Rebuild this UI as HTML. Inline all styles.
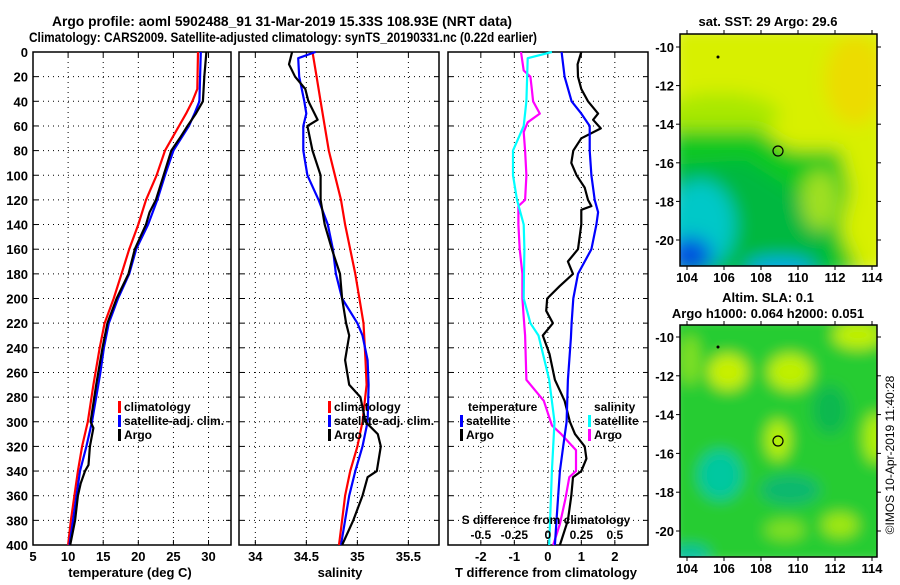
<!DOCTYPE html>
<html><head><meta charset="utf-8"><style>
body{margin:0;background:#fff;}
svg text{font-family:"Liberation Sans",Arial,sans-serif;font-weight:bold;font-size:13px;fill:#000;}
svg text.lg{font-size:12px;}
</style></head><body>
<svg id="fig" width="900" height="580" viewBox="0 0 900 580" xmlns="http://www.w3.org/2000/svg">
<defs>
<filter id="bl1" x="-50%" y="-50%" width="200%" height="200%"><feGaussianBlur stdDeviation="9"/></filter>
<filter id="bl2" x="-50%" y="-50%" width="200%" height="200%"><feGaussianBlur stdDeviation="7"/></filter>
<clipPath id="cm1"><rect x="680" y="34" width="197" height="232"/></clipPath>
<clipPath id="cm2"><rect x="680" y="325" width="197" height="232"/></clipPath>
</defs>
<text x="52" y="26" textLength="460" lengthAdjust="spacingAndGlyphs" style="font-size:14px">Argo profile: aoml 5902488_91 31-Mar-2019 15.33S 108.93E (NRT data)</text>
<text x="29" y="42" textLength="508" lengthAdjust="spacingAndGlyphs" style="font-size:14px">Climatology: CARS2009. Satellite-adjusted climatology: synTS_20190331.nc (0.22d earlier)</text>

<g id="p1"></g>
<g id="p2"></g>
<g id="p3"></g>

<g>
<g clip-path="url(#cm1)" filter="url(#bl1)">
<rect x="670" y="24" width="220" height="250" fill="#d8f000"/>
<ellipse cx="855" cy="80" rx="30" ry="45" fill="#ecdc00"/>
<ellipse cx="720" cy="115" rx="60" ry="22" fill="#a8e800"/>
<path d="M670 130 L760 130 L790 150 L840 150 L850 190 L840 230 L860 275 L670 275Z" fill="#10c820"/>
<path d="M670 165 L745 160 L800 195 L830 210 L830 280 L670 280Z" fill="#00b840"/>
<ellipse cx="820" cy="200" rx="18" ry="30" fill="#a0e020"/>
<ellipse cx="700" cy="225" rx="35" ry="45" fill="#00c8c8"/>
<ellipse cx="690" cy="255" rx="22" ry="18" fill="#0050e0"/>
<ellipse cx="780" cy="268" rx="35" ry="10" fill="#00a8f0"/>
<ellipse cx="870" cy="230" rx="20" ry="40" fill="#d8f000"/>
</g>
<rect x="680" y="34" width="197" height="232" fill="none" stroke="#000" stroke-width="1.5"/>
<circle cx="778" cy="151" r="5" fill="none" stroke="#000" stroke-width="1.2"/>
<circle cx="718" cy="57" r="1.5" fill="#000"/>
<text x="768" y="26" text-anchor="middle">sat. SST: 29 Argo: 29.6</text>
</g>
<g>
<g clip-path="url(#cm2)" filter="url(#bl2)">
<rect x="670" y="315" width="220" height="250" fill="#28cc30"/>
<ellipse cx="728" cy="372" rx="20" ry="18" fill="#c8f000"/>
<ellipse cx="790" cy="372" rx="22" ry="18" fill="#c0f000"/>
<ellipse cx="858" cy="335" rx="25" ry="14" fill="#c0f000"/>
<ellipse cx="778" cy="440" rx="12" ry="20" fill="#b8f000"/>
<ellipse cx="876" cy="438" rx="12" ry="25" fill="#b0f000"/>
<ellipse cx="785" cy="530" rx="20" ry="10" fill="#80e020"/>
<ellipse cx="840" cy="525" rx="18" ry="12" fill="#a0e810"/>
<ellipse cx="720" cy="475" rx="22" ry="25" fill="#00c8a0"/>
<ellipse cx="790" cy="490" rx="30" ry="15" fill="#10b870"/>
<ellipse cx="830" cy="410" rx="18" ry="25" fill="#10b850"/>
<ellipse cx="690" cy="555" rx="20" ry="10" fill="#00c0a0"/>
<ellipse cx="690" cy="360" rx="10" ry="25" fill="#80e020"/>
</g>
<rect x="680" y="325" width="197" height="232" fill="none" stroke="#000" stroke-width="1.5"/>
<circle cx="778" cy="441" r="5" fill="none" stroke="#000" stroke-width="1.2"/>
<circle cx="718" cy="347" r="1.5" fill="#000"/>
<text x="768" y="302" text-anchor="middle">Altim. SLA: 0.1</text>
<text x="768" y="318" text-anchor="middle">Argo h1000: 0.064 h2000: 0.051</text>
</g>
<g id="mapaxes"></g>
<text transform="translate(894,455) rotate(-90)" text-anchor="middle" style="font-weight:normal;font-size:12px">©IMOS 10-Apr-2019 11:40:28</text>
</svg>
<script>
// ---- data ----
const tDepthClim = [0,30,40,50,60,80,100,120,140,160,180,200,220,240,260,270,300,320,340,360,380,400];
const tClim = [28.5,28.4,27.7,26.8,25.8,23.8,22.6,21.1,20,18.7,17.6,16.5,15.2,14.5,13.9,13.6,12.8,12.0,11.4,10.9,10.4,10.0];
const tDepthSat = [0,40,50,60,80,100,120,140,160,180,200,220,240,260,270,300,320,340,360,380,400];
const tSat = [28.9,28.7,28.0,27.2,25.0,23.8,22.7,21.4,19.7,18.7,17.1,15.8,15.1,14.6,14.3,13.4,12.6,11.7,11.2,10.7,10.2];
const tDepthArgo = [0,20,30,40,50,60,70,80,100,120,130,140,160,180,200,220,240,260,270,300,305,320,335,340,350,360,380,400];
const tArgo = [29.7,29.4,29.3,29.2,28.2,27.0,25.9,24.7,23.6,22.5,21.6,21.1,19.5,18.6,16.9,15.6,14.9,14.3,14.0,13.2,13.6,13.1,12.9,12.4,11.8,11.4,11.0,10.3];

const sDepthClim = [0,20,40,60,80,100,120,140,160,180,200,220,250,270,300,320,340,360,380,400];
const sClim = [34.56,34.60,34.64,34.68,34.72,34.78,34.84,34.88,34.93,34.98,35.02,35.06,35.08,35.09,35.05,35.0,34.93,34.88,34.85,34.82];
const sDepthSat = [0,5,20,40,50,60,80,100,120,140,160,180,200,220,230,250,270,300,320,340,360,380,400];
const sSat = [34.59,34.42,34.43,34.48,34.50,34.47,34.47,34.51,34.62,34.71,34.76,34.79,34.85,35.0,35.05,35.1,35.11,35.10,35.05,34.98,34.92,34.88,34.84];
const sDepthArgo = [0,10,20,30,40,55,60,80,100,120,140,160,180,200,220,230,250,270,280,300,310,320,340,345,360,380,400];
const sArgo = [34.36,34.33,34.39,34.49,34.52,34.61,34.51,34.56,34.64,34.64,34.68,34.75,34.83,34.85,34.89,34.92,34.88,34.92,35.03,35.08,35.2,35.23,35.19,35.1,35.05,34.96,34.85];

const dDepthTSat = [0,20,40,50,60,80,100,120,130,140,160,180,200,220,232,266,300,320,340,360,380,400];
const dTSat = [0.41,0.5,0.71,1.0,1.25,1.25,1.3,1.4,1.5,1.45,1.3,0.9,0.76,0.71,0.69,0.6,0.56,0.46,0.36,0.31,0.26,0.21];
const dDepthTArgo = [0,10,20,30,40,50,55,62,70,80,90,100,110,120,125,128,140,160,170,180,190,200,210,220,230,245,266,283,300,310,320,330,340,345,360,380,400];
const dTArgo = [1.0,0.89,0.9,1.0,1.2,1.5,1.35,1.58,1.0,0.76,0.7,0.86,1.1,1.2,1.3,1.0,1.0,0.9,0.6,0.75,0.35,-0.02,-0.05,0.15,-0.15,0.05,0.21,0.5,0.66,0.81,1.1,1.15,1.0,0.75,0.7,0.6,0.36];
const dDepthSSat = [0,5,40,60,80,100,120,140,160,180,200,220,230,266,300,340,400];
const dSSat = [0.03,-0.15,-0.16,-0.18,-0.26,-0.26,-0.23,-0.18,-0.175,-0.178,-0.18,-0.13,-0.07,0.01,0.05,0.03,0.01];
const dDepthSArgo = [0,15,20,30,40,50,57,65,80,100,120,125,140,160,180,200,215,230,266,283,303,310,323,340,345,363,383,403];
const dSArgo = [-0.2,-0.18,-0.13,-0.12,-0.11,-0.06,-0.15,-0.18,-0.17,-0.16,-0.17,-0.22,-0.22,-0.21,-0.19,-0.19,-0.18,-0.17,-0.16,-0.03,0.03,0.1,0.21,0.21,0.16,0.13,0.09,0.04];

const depthTicks = [0,20,40,60,80,100,120,140,160,180,200,220,240,260,280,300,320,340,360,380,400];
const tTicks = [5,10,15,20,25,30];
const sTicks = [34,34.5,35,35.5];
const dTTicks = [-2,-1,0,1,2];
const dSTicks = [-0.5,-0.25,0,0.25,0.5];
const lonTicks = [104,106,108,110,112,114];
const latTicks = [-10,-12,-14,-16,-18,-20];

// ---- helpers ----
const NS='http://www.w3.org/2000/svg';
const TOP=52, BOT=545;
const yD = d => TOP + (Math.min(d,400)/400)*(BOT-TOP);
function mk(parent,tag,attrs){const e=document.createElementNS(NS,tag);for(const k in attrs)e.setAttribute(k,attrs[k]);parent.appendChild(e);return e;}
function txt(parent,x,y,s,anchor){const t=mk(parent,'text',{x:x,y:y,'text-anchor':anchor||'middle'});t.textContent=s;return t;}

function panel(g,x0,x1,xmin,xmax,xticks,showY){
  const xs=v=>x0+(v-xmin)/(xmax-xmin)*(x1-x0);
  depthTicks.forEach((d,i)=>{
    if(i>0 && i<depthTicks.length-1){
      const gl=mk(g,'line',{x1:x0,x2:x1,y1:yD(d),y2:yD(d),stroke:'#000','stroke-width':1,'stroke-dasharray':'1,4'});
      
      
    }
    mk(g,'line',{x1:x0,x2:x0+5,y1:yD(d),y2:yD(d),stroke:'#000'});
    mk(g,'line',{x1:x1-5,x2:x1,y1:yD(d),y2:yD(d),stroke:'#000'});
    if(showY){const t=txt(g,28,yD(d)+5,String(d),'end');
      
      }
  });
  xticks.forEach(v=>{
    const x=xs(v);
    mk(g,'line',{x1:x,x2:x,y1:TOP,y2:BOT,stroke:'#000','stroke-width':1,'stroke-dasharray':'1,4'});
    mk(g,'line',{x1:x,x2:x,y1:BOT-5,y2:BOT,stroke:'#000'});
    mk(g,'line',{x1:x,x2:x,y1:TOP,y2:TOP+5,stroke:'#000'});
  });
  const r=mk(g,'rect',{x:x0,y:TOP,width:x1-x0,height:BOT-TOP,fill:'none',stroke:'#000','stroke-width':1.5});
  
  
  return xs;
}
function series(g,xs,depths,vals,color,w,name){
  const pts=vals.map((v,i)=>xs(v).toFixed(1)+','+yD(depths[i]).toFixed(1)).join(' ');
  const p=mk(g,'polyline',{points:pts,fill:'none',stroke:color,'stroke-width':w,'stroke-linejoin':'round'});
  
  
}
function legend(g,x,y,color,label){
  mk(g,'rect',{x:x,y:y-10,width:3,height:12,fill:color});
  const t=txt(g,x+6,y,label,'start');
  t.setAttribute('class','lg');
  
  
}

// Panel 1
const g1=document.getElementById('p1');
const xT=panel(g1,33,231,5,33.2,tTicks,true);
series(g1,xT,tDepthClim,tClim,'#f00',2.2,'temp-climatology-line');
series(g1,xT,tDepthSat,tSat,'#00f',2.2,'temp-satellite-line');
series(g1,xT,tDepthArgo,tArgo,'#000',2.2,'temp-argo-line');
tTicks.forEach(v=>{const t=txt(g1,xT(v),561,String(v));
  
  });
{const t=txt(g1,130,577,'temperature (deg C)');}
legend(g1,118,411,'#f00','climatology');
legend(g1,118,425,'#00f','satellite-adj. clim.');
legend(g1,118,439,'#000','Argo');

// Panel 2
const g2=document.getElementById('p2');
const xS=panel(g2,239,439,33.84,35.8,sTicks,false);
series(g2,xS,sDepthClim,sClim,'#f00',2.2,'sal-climatology-line');
series(g2,xS,sDepthSat,sSat,'#00f',2.2,'sal-satellite-line');
series(g2,xS,sDepthArgo,sArgo,'#000',2.2,'sal-argo-line');
sTicks.forEach(v=>{const t=txt(g2,xS(v),561,String(v));
  
  });
{const t=txt(g2,340,577,'salinity');}
legend(g2,328,411,'#f00','climatology');
legend(g2,328,425,'#00f','satellite-adj. clim.');
legend(g2,328,439,'#000','Argo');

// Panel 3
const g3=document.getElementById('p3');
const xDT=panel(g3,448,648,-2.98,2.99,dTTicks,false);
const xDS=v=>xDT(v*4);
series(g3,xDS,dDepthSArgo,dSArgo,'#f0f',2.2,'sal-diff-argo-line');
series(g3,xDS,dDepthSSat,dSSat,'#0ff',2.2,'sal-diff-satellite-line');
series(g3,xDT,dDepthTArgo,dTArgo,'#000',2.2,'temp-diff-argo-line');
series(g3,xDT,dDepthTSat,dTSat,'#00f',2.2,'temp-diff-satellite-line');
dTTicks.forEach(v=>{const t=txt(g3,xDT(v),561,String(v));
  
  });
dSTicks.forEach(v=>{const t=txt(g3,xDS(v),539,String(v));
  t.setAttribute('class','lg');
  
  });
{const t=txt(g3,546,524,'S difference from climatology');t.setAttribute('class','lg');}
{const t=txt(g3,546,577,'T difference from climatology');}
{const t=txt(g3,468,411,'temperature','start');t.setAttribute('class','lg');}
legend(g3,460,425,'#00f','satellite');
legend(g3,460,439,'#000','Argo');
{const t=txt(g3,594,411,'salinity','start');t.setAttribute('class','lg');}
legend(g3,588,425,'#0ff','satellite');
legend(g3,588,439,'#f0f','Argo');

// Map axes
const ma=document.getElementById('mapaxes');
const lonX=v=>687+(v-104)*18.5;
[[34,266,47,240,282],[325,557,337,531,573]].forEach(m=>{
  const yt=m[0],yb=m[1],l10=m[2],l20=m[3],ly=m[4];
  const latY=v=>l10+(-10-v)*(l20-l10)/10;
  lonTicks.forEach(v=>{
    mk(ma,'line',{x1:lonX(v),x2:lonX(v),y1:yb,y2:yb+4,stroke:'#000'});
    mk(ma,'line',{x1:lonX(v),x2:lonX(v),y1:yt-4,y2:yt,stroke:'#000'});
    const t=txt(ma,lonX(v),ly,String(v));
    
    
  });
  latTicks.forEach(v=>{
    mk(ma,'line',{x1:676,x2:680,y1:latY(v),y2:latY(v),stroke:'#000'});
    mk(ma,'line',{x1:877,x2:881,y1:latY(v),y2:latY(v),stroke:'#000'});
    const t=txt(ma,674,latY(v)+5,String(v),'end');
    
    
  });
});
</script>
</body></html>
